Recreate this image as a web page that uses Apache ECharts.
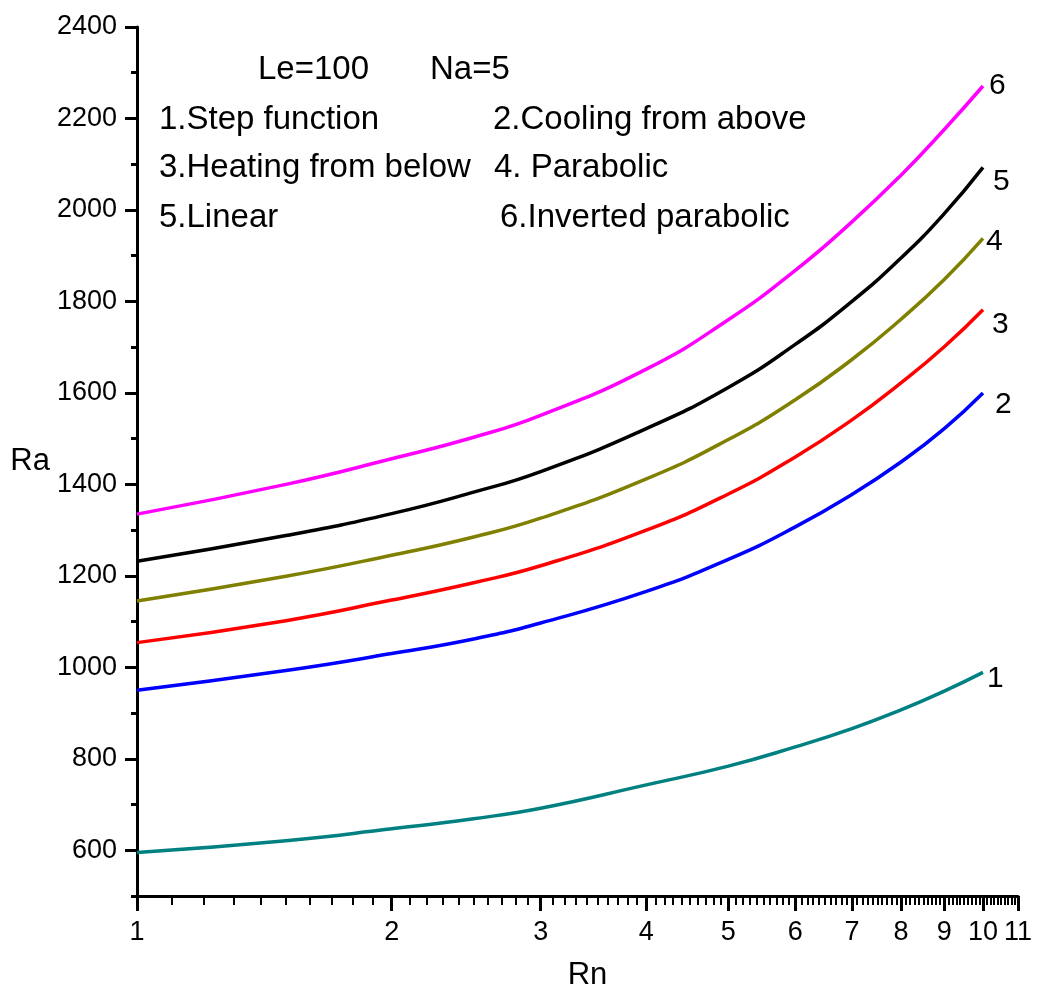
<!DOCTYPE html>
<html><head><meta charset="utf-8">
<script src="https://cdn.jsdelivr.net/npm/echarts@6/dist/echarts.min.js"></script>
<style>html,body{margin:0;padding:0;background:#fff}#c{width:1038px;height:999px}</style>
</head><body><div id="c"></div>
<script>
// ---- data ----
const rn  = [1, 1.5, 2, 2.5, 3, 4, 5, 6, 7, 8, 9, 10];
const ra1 = [595, 621, 647, 669, 692, 743, 784, 826, 866, 907, 948, 989];      // Step function
const ra2 = [950, 993, 1030, 1062, 1097, 1166, 1236, 1307, 1378, 1449, 1522, 1600]; // Cooling from above
const ra3 = [1054, 1102, 1147, 1185, 1222, 1300, 1379, 1460, 1541, 1622, 1701, 1782]; // Heating from below
const ra4 = [1145, 1199, 1245, 1285, 1326, 1412, 1498, 1585, 1673, 1761, 1848, 1938]; // Parabolic
const ra5 = [1232, 1288, 1336, 1383, 1428, 1522, 1612, 1706, 1800, 1895, 1992, 2093]; // Linear
const ra6 = [1335, 1400, 1456, 1503, 1551, 1652, 1760, 1868, 1974, 2076, 2176, 2271]; // Inverted parabolic
const curveLabels = ['1', '2', '3', '4', '5', '6'];
const xMajorTicks = [1, 2, 3, 4, 5, 6, 7, 8, 9, 10, 11];
const yMajorTicks = [600, 800, 1000, 1200, 1400, 1600, 1800, 2000, 2200, 2400];
const yMinorTicks = [500, 700, 900, 1100, 1300, 1500, 1700, 1900, 2100, 2300];
const xMinorTicks = [];
for (let i = 1; i <= 10; i++) for (let j = 1; j <= 9; j++) xMinorTicks.push(Math.round((i + j / 10) * 10) / 10);
const noteLines = [
  { text: 'Le=100', left: 258, top: 53 },
  { text: 'Na=5', left: 430, top: 53 },
  { text: '1.Step function', left: 159, top: 103 },
  { text: '2.Cooling from above', left: 493, top: 103 },
  { text: '3.Heating from below', left: 159, top: 151 },
  { text: '4. Parabolic', left: 494, top: 151 },
  { text: '5.Linear', left: 159, top: 201 },
  { text: '6.Inverted parabolic', left: 500, top: 201 }
];

// ---- styles ----
const FONT = '"Liberation Sans", Arial, sans-serif';
const colors = ['#008080', '#0000ff', '#ff0000', '#808000', '#000000', '#ff00ff'];
const labelOffsets = [[4, 6], [12, 12], [9, 15], [3, 3], [10, 14], [6, 0]];
const seriesData = [ra1, ra2, ra3, ra4, ra5, ra6];

const chart = echarts.init(document.getElementById('c'), null, { renderer: 'canvas' });
const series = seriesData.map((vals, k) => ({
  name: curveLabels[k],
  type: 'line',
  xAxisIndex: 0, yAxisIndex: 0,
  data: rn.map((x, i) => [x, vals[i]]),
  showSymbol: false,
  smooth: 0.5,
  lineStyle: { width: 3.5, color: colors[k] },
  itemStyle: { color: colors[k] },
  endLabel: {
    show: true, formatter: curveLabels[k], fontSize: 30, color: '#000',
    fontFamily: FONT, distance: 0, offset: labelOffsets[k]
  },
  z: 3
}));

chart.setOption({
  animation: false,
  backgroundColor: '#fff',
  textStyle: { fontFamily: FONT },
  grid: { left: 137, right: 20, top: 27, bottom: 103, containLabel: false },
  xAxis: [{
    type: 'log', logBase: 10, min: 1, max: 11,
    name: 'Rn', nameLocation: 'middle', nameGap: 79,
    nameTextStyle: { fontSize: 31, color: '#000', verticalAlign: 'middle', padding: [0, 0, 0, 20] },
    axisLine: { show: true, lineStyle: { color: '#000', width: 3 } },
    axisTick: { show: true, customValues: xMajorTicks, length: 15, lineStyle: { color: '#000', width: 3 } },
    axisLabel: { show: true, customValues: xMajorTicks, fontSize: 27, color: '#000', margin: 23,
                 formatter: v => String(v) },
    splitLine: { show: false }, minorTick: { show: false }
  }, {
    type: 'log', logBase: 10, min: 1, max: 11, position: 'bottom', offset: 0,
    axisLine: { show: false },
    axisTick: { show: true, customValues: xMinorTicks, length: 9, lineStyle: { color: '#000', width: 2 } },
    axisLabel: { show: false }, splitLine: { show: false }
  }],
  yAxis: [{
    type: 'value', min: 500, max: 2400,
    name: 'Ra', nameLocation: 'middle', nameRotate: 0, nameGap: 87,
    nameTextStyle: { fontSize: 31, color: '#000', align: 'right', verticalAlign: 'middle' },
    axisLine: { show: true, lineStyle: { color: '#000', width: 3 } },
    axisTick: { show: true, customValues: yMajorTicks, length: 12, lineStyle: { color: '#000', width: 3 } },
    axisLabel: { show: true, customValues: yMajorTicks, fontSize: 27, color: '#000', margin: 20,
                 formatter: v => String(v) },
    splitLine: { show: false }
  }, {
    type: 'value', min: 500, max: 2400, position: 'left', offset: 0,
    axisLine: { show: false },
    axisTick: { show: true, customValues: yMinorTicks, length: 6, lineStyle: { color: '#000', width: 3 } },
    axisLabel: { show: false }, splitLine: { show: false }
  }],
  graphic: noteLines.map(n => ({
    type: 'text', left: n.left, top: n.top, z: 10,
    style: { text: n.text, fill: '#000', font: '33px ' + FONT }
  })),
  series: series
});
</script>
</body></html>
